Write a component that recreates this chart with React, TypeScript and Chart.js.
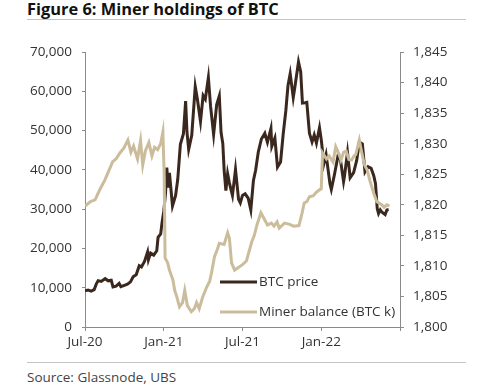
import React, { useEffect, useRef } from "react";
import { Chart, registerables } from "chart.js";

Chart.register(...registerables);

// ---- Data ----
const priceDates = [
  "2020-07-01","2020-07-08","2020-07-15","2020-07-22","2020-07-27","2020-08-01","2020-08-08","2020-08-17","2020-08-24",
  "2020-09-01","2020-09-05","2020-09-12","2020-09-19","2020-09-23","2020-10-01","2020-10-08","2020-10-15","2020-10-21",
  "2020-10-28","2020-11-05","2020-11-10","2020-11-17","2020-11-24","2020-11-26","2020-12-01","2020-12-08","2020-12-15",
  "2020-12-18","2020-12-24","2020-12-27","2021-01-01","2021-01-05","2021-01-08","2021-01-11","2021-01-14","2021-01-21",
  "2021-01-28","2021-02-03","2021-02-09","2021-02-16","2021-02-21","2021-02-24","2021-02-28","2021-03-05","2021-03-13",
  "2021-03-18","2021-03-25","2021-03-31","2021-04-06","2021-04-13","2021-04-18","2021-04-25","2021-05-02","2021-05-08",
  "2021-05-12","2021-05-16","2021-05-19","2021-05-23","2021-05-27","2021-06-01","2021-06-08","2021-06-15","2021-06-22",
  "2021-06-26","2021-07-01","2021-07-07","2021-07-14","2021-07-20","2021-07-26","2021-08-01","2021-08-07","2021-08-14",
  "2021-08-22","2021-08-28","2021-09-06","2021-09-08","2021-09-15","2021-09-21","2021-09-28","2021-10-04","2021-10-10",
  "2021-10-15","2021-10-20","2021-10-27","2021-11-01","2021-11-09","2021-11-14","2021-11-18","2021-11-24","2021-11-28",
  "2021-12-04","2021-12-10","2021-12-15","2021-12-20","2021-12-27","2022-01-01","2022-01-07","2022-01-12","2022-01-21",
  "2022-01-24","2022-02-01","2022-02-10","2022-02-15","2022-02-22","2022-02-24","2022-03-01","2022-03-07","2022-03-15",
  "2022-03-22","2022-03-28","2022-04-05","2022-04-11","2022-04-18","2022-04-25","2022-05-01","2022-05-05","2022-05-09",
  "2022-05-12","2022-05-16","2022-05-20","2022-05-27","2022-06-01","2022-06-05"
];
const priceValues = [
  9230,9430,9130,9530,11000,11800,11600,12300,11750,
  11900,10200,10400,11100,10250,10600,10900,11500,12800,
  13300,15600,15300,16700,19100,17100,18800,18300,19400,
  22800,23700,26500,29400,34000,40600,35500,39200,30800,
  33400,37600,46500,49200,57500,49700,45200,48800,61200,
  57900,52300,58900,58000,63500,56200,49000,56600,58800,
  49500,46700,40000,34700,39000,36700,33500,40100,32500,
  31600,33500,33900,32800,29800,37300,39900,44500,47800,
  49300,47000,50500,46000,48100,40700,42000,49100,55000,
  61500,64500,58400,61300,67500,65000,57000,57100,57200,
  49300,47100,48900,46800,50700,47700,41600,43900,36400,
  35000,38700,44000,42500,37000,38300,44400,38000,39300,
  42400,47100,46600,39500,40800,40400,38500,36500,30100,
  28900,29800,29200,28600,29800,29900
];

const balanceDates = [
  "2020-07-01","2020-07-13","2020-07-24","2020-08-05","2020-08-16","2020-08-28","2020-09-04","2020-09-13","2020-09-20",
  "2020-09-30","2020-10-09","2020-10-16","2020-10-22","2020-11-01","2020-11-08","2020-11-13","2020-11-19","2020-11-27",
  "2020-12-04","2020-12-10","2020-12-17","2020-12-24","2020-12-29","2021-01-02","2021-01-04","2021-01-10","2021-01-14",
  "2021-01-22","2021-01-26","2021-02-01","2021-02-07","2021-02-14","2021-02-19","2021-02-25","2021-03-04","2021-03-11",
  "2021-03-16","2021-03-22","2021-03-30","2021-04-09","2021-04-16","2021-04-20","2021-04-27","2021-05-04","2021-05-08",
  "2021-05-19","2021-05-27","2021-06-01","2021-06-06","2021-06-13","2021-06-19","2021-07-01","2021-07-10","2021-07-22",
  "2021-07-28","2021-08-04","2021-08-13","2021-08-22","2021-08-28","2021-09-07","2021-09-13","2021-09-20","2021-09-25",
  "2021-10-07","2021-10-19","2021-10-28","2021-11-10","2021-11-17","2021-11-22","2021-11-28","2021-12-04","2021-12-13",
  "2021-12-19","2021-12-26","2022-01-01","2022-01-04","2022-01-13","2022-01-19","2022-01-28","2022-02-04","2022-02-13",
  "2022-02-16","2022-02-22","2022-02-28","2022-03-04","2022-03-10","2022-03-16","2022-03-20","2022-03-28","2022-04-04",
  "2022-04-10","2022-04-16","2022-04-22","2022-05-01","2022-05-08","2022-05-13","2022-05-19","2022-05-25","2022-06-01",
  "2022-06-07"
];
const balanceValues = [
  1819.8,1820.5,1820.8,1822.5,1824.0,1826.0,1827.0,1827.6,1828.4,
  1829.3,1830.6,1828.6,1829.6,1827.5,1830.5,1826.5,1828.8,1830.2,
  1828.0,1829.4,1829.0,1830.0,1831.9,1825.0,1811.3,1810.5,1809.3,
  1807.7,1806.0,1804.9,1803.3,1804.0,1806.0,1803.5,1802.5,1803.0,
  1804.0,1803.0,1804.9,1806.5,1807.5,1808.8,1811.5,1812.8,1813.7,
  1813.5,1815.4,1814.5,1810.5,1809.3,1809.6,1810.2,1810.8,1813.9,
  1815.0,1816.7,1818.7,1817.5,1816.7,1817.0,1816.5,1817.2,1816.2,
  1817.0,1816.8,1816.5,1816.6,1818.6,1820.3,1820.5,1821.3,1821.5,
  1822.0,1822.4,1822.6,1828.5,1827.5,1828.0,1827.0,1829.5,1828.0,
  1827.3,1828.6,1828.8,1827.4,1827.3,1828.0,1828.2,1830.6,1828.4,
  1826.5,1825.7,1824.0,1821.9,1820.5,1820.3,1820.0,1819.6,1820.0,
  1819.8
];

const xTickLabels = ["Jul-20", "Jan-21", "Jul-21", "Jan-22", ""];
const seriesNames = ["BTC price", "Miner balance (BTC k)"];

const PRICE_COLOR = "#3a271e";
const BAL_COLOR = "#cbbc9b";
const FONT = "'Open Sans', sans-serif";

// months since 2020-07-01
function monthsFrom(d: string): number {
  const [y, m, day] = d.split("-").map(Number);
  return (y - 2020) * 12 + (m - 7) + (day - 1) / 30;
}

export default function App() {
  const ref = useRef<HTMLCanvasElement | null>(null);

  useEffect(() => {
    if (!ref.current) return;
    const priceData = priceDates.map((d, i) => ({ x: monthsFrom(d), y: priceValues[i] }));
    const balData = balanceDates.map((d, i) => ({ x: monthsFrom(d), y: balanceValues[i] }));

    const legendPlugin = {
      id: "customLegend",
      afterDraw(chart: any) {
        const ctx = chart.ctx;
        const items = [
          { label: seriesNames[0], color: PRICE_COLOR, y: 252 },
          { label: seriesNames[1], color: BAL_COLOR, y: 282 },
        ];
        ctx.save();
        items.forEach((it) => {
          ctx.strokeStyle = it.color;
          ctx.lineWidth = 3;
          ctx.beginPath();
          ctx.moveTo(220, it.y);
          ctx.lineTo(257, it.y);
          ctx.stroke();
          ctx.fillStyle = "#333";
          ctx.font = `13.5px ${FONT}`;
          ctx.textBaseline = "middle";
          ctx.textAlign = "left";
          ctx.fillText(it.label, 259, it.y);
        });
        ctx.restore();
      },
    };

    const axisColor = "#8a8a8a";
    const tickFont = { family: FONT, size: 13.5 };

    const chart = new Chart(ref.current, {
      type: "line",
      data: {
        datasets: [
          {
            label: seriesNames[0],
            data: priceData,
            borderColor: PRICE_COLOR,
            borderWidth: 3,
            pointRadius: 0,
            tension: 0,
            yAxisID: "y",
            order: 2,
          },
          {
            label: seriesNames[1],
            data: balData,
            borderColor: BAL_COLOR,
            borderWidth: 3,
            pointRadius: 0,
            tension: 0,
            yAxisID: "y1",
            order: 1,
          },
        ],
      },
      options: {
        animation: false,
        responsive: false,
        maintainAspectRatio: false,
        layout: { padding: { top: 22, left: 0, right: 0, bottom: 0 } },
        plugins: { legend: { display: false }, tooltip: { enabled: false } },
        scales: {
          x: {
            type: "linear",
            min: 0,
            max: 24,
            afterFit: (s: any) => { s.height = 33; },
            afterBuildTicks: (s: any) => { s.ticks = [0, 6, 12, 18, 24].map((v) => ({ value: v })); },
            ticks: {
              color: "#333",
              font: tickFont,
              maxRotation: 0,
              autoSkip: false,
              padding: 3,
              callback: (v: any) => xTickLabels[Math.round(Number(v) / 6)] ?? "",
            },
            grid: { drawOnChartArea: false, color: axisColor, tickLength: 4 },
            border: { color: axisColor },
          },
          y: {
            position: "left",
            min: 0,
            max: 70000,
            afterFit: (s: any) => { s.width = 85; },
            ticks: {
              stepSize: 10000,
              color: "#333",
              font: tickFont,
              padding: 10,
              callback: (v: any) => Number(v).toLocaleString("en-US"),
            },
            grid: { drawOnChartArea: false, color: axisColor, tickLength: 3 },
            border: { color: axisColor },
          },
          y1: {
            position: "right",
            min: 1800,
            max: 1845,
            afterFit: (s: any) => { s.width = 100; },
            ticks: {
              stepSize: 5,
              color: "#333",
              font: tickFont,
              padding: 9,
              callback: (v: any) => Number(v).toLocaleString("en-US"),
            },
            grid: { drawOnChartArea: false, color: axisColor, tickLength: 4 },
            border: { color: axisColor },
          },
        },
      },
      plugins: [legendPlugin],
    });
    return () => chart.destroy();
  }, []);

  return (
    <div style={{ position: "fixed", left: 0, top: 0, width: 500, height: 390, background: "#fff", fontFamily: FONT, overflow: "hidden" }}>
      <div style={{ position: "absolute", left: 27, top: -3, fontSize: 16.4, fontWeight: 700, color: "#111", whiteSpace: "nowrap" }}>
        Figure 6: Miner holdings of BTC
      </div>
      <div style={{ position: "absolute", left: 27, top: 19, width: 439, height: 1, background: "#c4c4c4" }} />
      <canvas ref={ref} width={500} height={330} style={{ position: "absolute", left: 0, top: 30, width: 500, height: 330 }} />
      <div style={{ position: "absolute", left: 27, top: 362, width: 439, height: 1, background: "#c4c4c4" }} />
      <div style={{ position: "absolute", left: 27, top: 368, fontSize: 13.5, color: "#444", whiteSpace: "nowrap" }}>
        Source: Glassnode, UBS
      </div>
    </div>
  );
}
